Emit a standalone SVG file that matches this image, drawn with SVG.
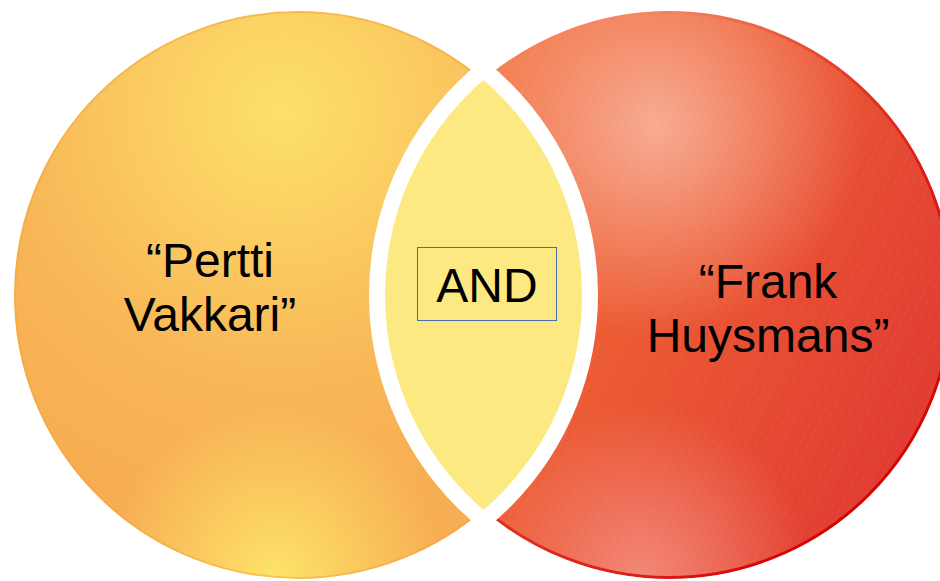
<svg xmlns="http://www.w3.org/2000/svg" width="940" height="581" viewBox="0 0 940 581">
  <defs>
    <style>
      .lbl { font-family: "Liberation Sans", Arial, sans-serif; font-size: 48px; fill: #000; text-anchor: middle; }
      .wedge { fill: none; stroke: #ffffff; stroke-width: 16; }
    </style>
    <radialGradient id="gLeft" gradientUnits="userSpaceOnUse" cx="282" cy="112" r="420">
      <stop offset="0" stop-color="#fce16a"/>
      <stop offset="0.3" stop-color="#fbcd62"/>
      <stop offset="0.65" stop-color="#f8b657"/>
      <stop offset="1" stop-color="#f7ad52"/>
    </radialGradient>
    <radialGradient id="gLeftBot" gradientUnits="userSpaceOnUse" cx="275" cy="575" r="170">
      <stop offset="0" stop-color="#fde36a" stop-opacity="1"/>
      <stop offset="1" stop-color="#fde36a" stop-opacity="0"/>
    </radialGradient>
    <linearGradient id="gRight" gradientUnits="userSpaceOnUse" x1="400" y1="150" x2="940" y2="420">
      <stop offset="0" stop-color="#f57a45"/>
      <stop offset="0.45" stop-color="#ec5b33"/>
      <stop offset="1" stop-color="#e03a32"/>
    </linearGradient>
    <radialGradient id="gRightHi" gradientUnits="userSpaceOnUse" cx="655" cy="125" r="210">
      <stop offset="0" stop-color="#f7ab92" stop-opacity="1"/>
      <stop offset="1" stop-color="#f7ab92" stop-opacity="0"/>
    </radialGradient>
    <radialGradient id="gRightBot" gradientUnits="userSpaceOnUse" cx="640" cy="575" r="170">
      <stop offset="0" stop-color="#f38a7a" stop-opacity="0.95"/>
      <stop offset="1" stop-color="#f38a7a" stop-opacity="0"/>
    </radialGradient>
    <linearGradient id="gRim" gradientUnits="userSpaceOnUse" x1="520" y1="120" x2="880" y2="520">
      <stop offset="0" stop-color="#d40000" stop-opacity="0"/>
      <stop offset="0.5" stop-color="#d40000" stop-opacity="0.5"/>
      <stop offset="1" stop-color="#d40000" stop-opacity="1"/>
    </linearGradient>
    <pattern id="stripes" patternUnits="userSpaceOnUse" width="8" height="8" patternTransform="rotate(25)">
      <line x1="0" y1="0" x2="0" y2="8" stroke="#ffffff" stroke-opacity="0.08" stroke-width="1"/>
    </pattern>
  </defs>

  <rect x="0" y="0" width="940" height="581" fill="#ffffff"/>

  <g id="node-left">
    <circle cx="298" cy="295" r="292" fill="url(#gLeft)"/>
    <circle cx="298" cy="295" r="292" fill="url(#gLeftBot)"/>
    <circle cx="298" cy="295" r="283" fill="none" stroke="#f5a43a" stroke-opacity="0.5" stroke-width="2"/>
  </g>

  <g id="node-right">
    <circle cx="669" cy="295" r="292" fill="url(#gRight)"/>
    <circle cx="669" cy="295" r="292" fill="url(#gRightHi)"/>
    <circle cx="669" cy="295" r="292" fill="url(#gRightBot)"/>
    <circle cx="669" cy="295" r="292" fill="url(#stripes)"/>
    <circle cx="669" cy="295" r="282.5" fill="none" stroke="url(#gRim)" stroke-width="3"/>
  </g>

  <g id="node-and">
    <path d="M 483.5 69.5 A 292 292 0 0 0 483.5 520.5 A 292 292 0 0 0 483.5 69.5 Z" fill="#fde981"/>
    <circle class="wedge" cx="298" cy="295" r="292"/>
    <circle class="wedge" cx="669" cy="295" r="292"/>
    <rect x="417.5" y="247.5" width="139" height="73" fill="none" stroke="#4a6fa8" stroke-width="1"/>
    <text class="lbl" x="487" y="302">AND</text>
  </g>

  <g id="label-left">
    <text class="lbl" x="210" y="277">“Pertti</text>
    <text class="lbl" x="210" y="331">Vakkari”</text>
  </g>

  <g id="label-right">
    <text class="lbl" x="768" y="298">“Frank</text>
    <text class="lbl" x="768" y="352">Huysmans”</text>
  </g>
</svg>
